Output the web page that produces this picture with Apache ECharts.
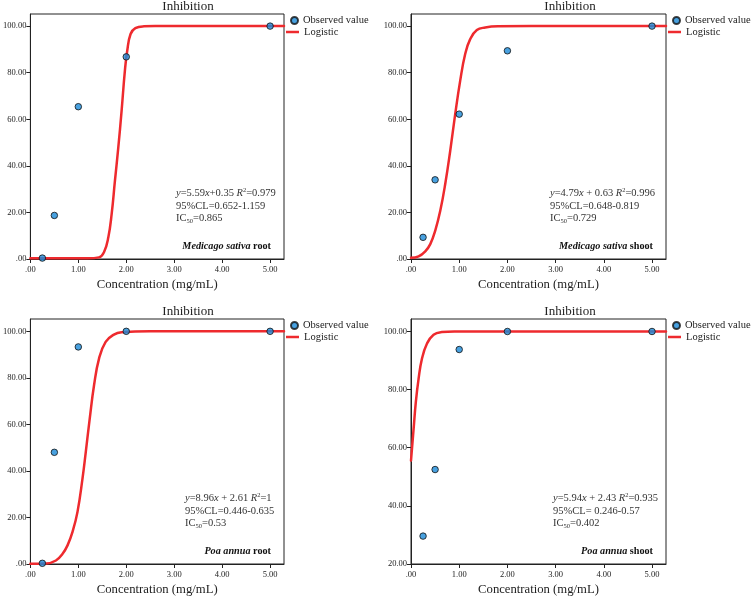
<!DOCTYPE html>
<html>
<head>
<meta charset="utf-8">
<script src="https://cdn.jsdelivr.net/npm/echarts@6/dist/echarts.min.js"></script>
<style>
html,body{margin:0;padding:0;background:#fff;}
#chart{width:751px;height:598px;}
</style>
</head>
<body>
<div id="chart"></div>
<script>
// ---------- data ----------
const concentration = [0.25, 0.5, 1, 2, 5];
const xTicks = [0, 1, 2, 3, 4, 5];
const yTicks = [0, 20, 40, 60, 80, 100];
const yTicksPaShoot = [20, 40, 60, 80, 100];

const msRootObserved  = [0.4, 18.7, 65.4, 86.8, 100];
const msShootObserved = [9.3, 34.0, 62.2, 89.4, 100];
const paRootObserved  = [0.3, 48.0, 93.3, 100, 100];
const paShootObserved = [29.6, 52.5, 93.8, 100, 100];

// logistic curves
const msRootFitX  = [0, 0.5, 1.0, 1.2, 1.43, 1.535, 1.626, 1.695, 1.764, 1.834, 1.903, 1.971, 2.02, 2.09, 2.19, 2.37, 2.6, 3.5, 5.29];
const msRootFitY  = [0.3, 0.3, 0.3, 0.3, 0.7, 2.9, 9.3, 19.3, 33.6, 47.9, 63.7, 80.8, 89.4, 96.6, 99.1, 99.9, 100, 100, 100];
const msShootFitX = [0, 0.157, 0.296, 0.40, 0.503, 0.607, 0.71, 0.814, 0.917, 1.02, 1.124, 1.228, 1.366, 1.54, 1.8, 2.5, 5.29];
const msShootFitY = [0.5, 1.1, 3.3, 6.4, 12.2, 20.7, 32.2, 46.5, 62.2, 76.5, 88.0, 94.4, 98.3, 99.4, 99.9, 100, 100];
const paRootFitX  = [0, 0.33, 0.533, 0.672, 0.775, 0.879, 0.983, 1.087, 1.156, 1.238, 1.328, 1.432, 1.57, 1.743, 1.9, 2.5, 5.29];
const paRootFitY  = [0.1, 0.2, 1.5, 4.4, 8.0, 13.8, 22.4, 36.7, 48.2, 62.5, 76.8, 88.3, 95.5, 98.6, 99.6, 100, 100];
const paShootFitX = [0, 0.054, 0.10, 0.157, 0.227, 0.33, 0.468, 0.64, 0.9, 1.5, 5.29];
const paShootFitY = [55.6, 66.5, 75.7, 83.7, 90.6, 95.8, 98.9, 99.8, 100, 100, 100];

const panels = [
  { obs: msRootObserved,  fx: msRootFitX,  fy: msRootFitY,  yMin: 0,  yMax: 105.2, yT: yTicks,
    eq: ['5.59', '+0.35 ', '0.979'], cl: '0.652-1.159', ic: '0.865', sp: 'Medicago sativa', part: 'root' },
  { obs: msShootObserved, fx: msShootFitX, fy: msShootFitY, yMin: 0,  yMax: 105.2, yT: yTicks,
    eq: ['4.79', ' + 0.63 ', '0.996'], cl: '0.648-0.819', ic: '0.729', sp: 'Medicago sativa', part: 'shoot' },
  { obs: paRootObserved,  fx: paRootFitX,  fy: paRootFitY,  yMin: 0,  yMax: 105.3, yT: yTicks,
    eq: ['8.96', ' + 2.61 ', '1'], cl: '0.446-0.635', ic: '0.53', sp: 'Poa annua', part: 'root' },
  { obs: paShootObserved, fx: paShootFitX, fy: paShootFitY, yMin: 20, yMax: 104.3, yT: yTicksPaShoot,
    eq: ['5.94', ' + 2.43 ', '0.935'], cl: ' 0.246-0.57', ic: '0.402', sp: 'Poa annua', part: 'shoot' }
];

// ---------- layout ----------
const SERIF = '"Liberation Serif", "Times New Roman", serif';
const gridPos = [
  { left: 29,  top: 14 },
  { left: 411, top: 14 },
  { left: 29,  top: 319 },
  { left: 411, top: 319 }
];
const GW = 255, GH = 245;
const RED = '#ee2a2e';
const BLUE = '#1a8ad8';

const fmt = v => (Math.abs(v) < 1e-9 ? '.00' : v.toFixed(2));

const grid = [], xAxis = [], yAxis = [], series = [], legend = [], graphic = [];

panels.forEach((p, i) => {
  const g = gridPos[i];
  grid.push({ left: g.left, top: g.top, width: GW, height: GH, show: true,
    borderColor: '#222', borderWidth: 1, backgroundColor: '#fff' });
  xAxis.push({
    type: 'value', gridIndex: i, min: 0, max: 5.29,
    name: 'Concentration (mg/mL)', nameLocation: 'middle', nameGap: 19,
    nameTextStyle: { fontFamily: SERIF, fontSize: 12.7, color: '#222' },
    splitLine: { show: false },
    axisLine: { show: true, onZero: false, lineStyle: { color: '#222', width: 1 } },
    axisTick: { show: true, length: 4, customValues: xTicks, lineStyle: { color: '#222' } },
    axisLabel: { customValues: xTicks, formatter: fmt, margin: 6,
      fontFamily: SERIF, fontSize: 8.5, color: '#222' }
  });
  yAxis.push({
    type: 'value', gridIndex: i, min: p.yMin, max: p.yMax,
    splitLine: { show: false },
    axisLine: { show: true, onZero: false, lineStyle: { color: '#222', width: 1 } },
    axisTick: { show: true, length: 4, customValues: p.yT, lineStyle: { color: '#222' } },
    axisLabel: { customValues: p.yT, formatter: fmt, margin: 4,
      fontFamily: SERIF, fontSize: 8.5, color: '#222' }
  });
  series.push({
    name: 'Logistic', type: 'line', xAxisIndex: i, yAxisIndex: i,
    data: p.fx.map((x, k) => [x, p.fy[k]]),
    showSymbol: false, symbol: 'none', smooth: 0.45,
    color: RED, lineStyle: { color: RED, width: 2.5, cap: 'round', join: 'round' }, itemStyle: { color: RED },
    z: 2, silent: true, animation: false
  });
  series.push({
    name: 'Observed value', type: 'scatter', xAxisIndex: i, yAxisIndex: i,
    data: concentration.map((x, k) => [x, p.obs[k]]),
    symbol: 'circle', symbolSize: 6.5,
    color: BLUE, itemStyle: { color: BLUE, borderColor: '#111', borderWidth: 1 },
    z: 3, silent: true, animation: false
  });
  const lx = g.left + GW;
  legend.push({
    data: [{ name: 'Observed value', icon: 'circle' }],
    left: lx + 6, top: g.top + 1, itemWidth: 7, itemHeight: 7, itemGap: 0,
    padding: 0, selectedMode: false,
    textStyle: { fontFamily: SERIF, fontSize: 10.5, color: '#222' }
  });
  legend.push({
    data: [{ name: 'Logistic', icon: 'rect' }],
    left: lx + 2, top: g.top + 12.5, itemWidth: 13, itemHeight: 2.5, itemGap: 0,
    padding: 0, selectedMode: false,
    textStyle: { fontFamily: SERIF, fontSize: 10.5, color: '#222' }
  });
  // title
  graphic.push({ type: 'text', x: lx - 96, y: g.top - 7.5, z: 10,
    style: { text: 'Inhibition', fontFamily: SERIF, fontSize: 13, fill: '#222',
      align: 'center', verticalAlign: 'middle' } });
  // equation block
  const exLeft = [147, 139, 156, 142][i];
  graphic.push({ type: 'text', x: g.left + exLeft, y: g.top + 173, z: 10,
    style: {
      text: '{i|y}=' + p.eq[0] + '{i|x}' + p.eq[1] + '{i|R}{sup|2}=' + p.eq[2] +
            '\n95%CL=' + p.cl + '\nIC{sub|50}=' + p.ic,
      fontFamily: SERIF, fontSize: 10.5, lineHeight: 12.5, fill: '#333',
      align: 'left', verticalAlign: 'top',
      rich: {
        i: { fontFamily: SERIF, fontSize: 10.5, fontStyle: 'italic', fill: '#333', lineHeight: 12.5 },
        sup: { fontFamily: SERIF, fontSize: 6.5, fill: '#333', lineHeight: 8, verticalAlign: 'top' },
        sub: { fontFamily: SERIF, fontSize: 6.5, fill: '#333', lineHeight: 7, verticalAlign: 'bottom' }
      }
    } });
  // species label
  graphic.push({ type: 'text', x: g.left + GW - 13, y: g.top + 232, z: 10,
    style: {
      text: '{s|' + p.sp + '} {b|' + p.part + '}',
      fontFamily: SERIF, fontSize: 10.2, fill: '#111',
      align: 'right', verticalAlign: 'middle',
      rich: {
        s: { fontFamily: SERIF, fontSize: 10.2, fontStyle: 'italic', fontWeight: 'bold', fill: '#111' },
        b: { fontFamily: SERIF, fontSize: 10.2, fontWeight: 'bold', fill: '#111' }
      }
    } });
});

const chart = echarts.init(document.getElementById('chart'), null, { renderer: 'canvas' });
chart.setOption({
  backgroundColor: '#fff',
  animation: false,
  grid, xAxis, yAxis, series, legend, graphic
});
</script>
</body>
</html>
